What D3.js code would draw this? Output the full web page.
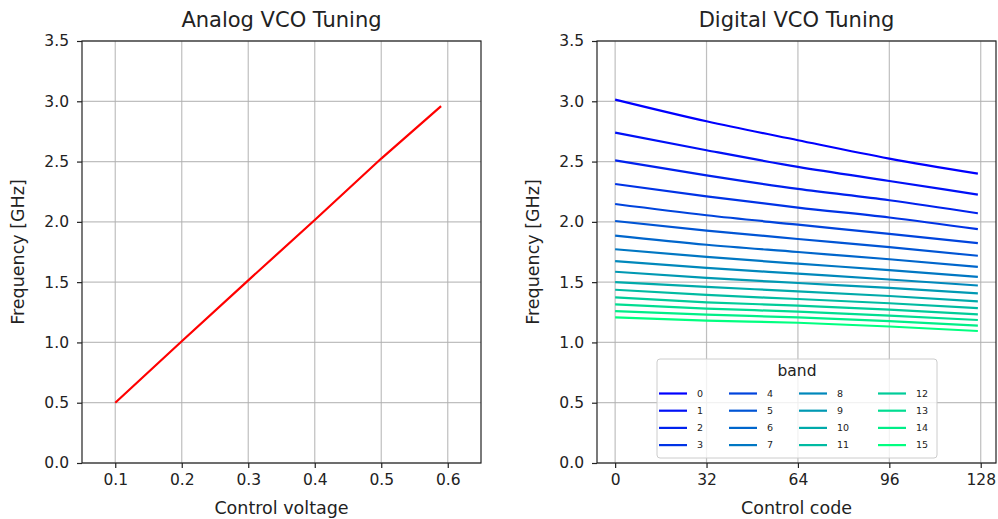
<!DOCTYPE html>
<html>
<head>
<meta charset="utf-8">
<script src="https://cdn.jsdelivr.net/npm/d3@7"></script>
<style>
  html, body { margin: 0; padding: 0; background: #fff; }
  svg { display: block; font-family: "DejaVu Sans", sans-serif; }
</style>
</head>
<body>
<svg id="chart" width="998" height="519"></svg>
<script>
// ---- Data ----
const voltage = [0.1, 0.2, 0.3, 0.4, 0.5, 0.59];
const analogFreq = [0.5, 1.01, 1.515, 2.015, 2.525, 2.96];

const bands = [0, 1, 2, 3, 4, 5, 6, 7, 8, 9, 10, 11, 12, 13, 14, 15];
const codes = [0, 32, 64, 96, 127];
// frequency [GHz] of each band at the control codes above
const digitalFreq = [
  [3.014, 2.834, 2.677, 2.525, 2.400],
  [2.740, 2.594, 2.456, 2.339, 2.226],
  [2.510, 2.386, 2.273, 2.179, 2.071],
  [2.314, 2.212, 2.118, 2.036, 1.939],
  [2.148, 2.055, 1.977, 1.900, 1.823],
  [2.007, 1.928, 1.858, 1.790, 1.719],
  [1.886, 1.810, 1.750, 1.690, 1.626],
  [1.773, 1.709, 1.653, 1.600, 1.543],
  [1.675, 1.618, 1.570, 1.522, 1.472],
  [1.586, 1.535, 1.493, 1.452, 1.407],
  [1.500, 1.460, 1.424, 1.385, 1.341],
  [1.437, 1.394, 1.360, 1.325, 1.285],
  [1.374, 1.333, 1.305, 1.272, 1.233],
  [1.316, 1.281, 1.255, 1.222, 1.186],
  [1.260, 1.231, 1.207, 1.176, 1.139],
  [1.208, 1.181, 1.163, 1.132, 1.095]
];

const yTicks = [0, 0.5, 1.0, 1.5, 2.0, 2.5, 3.0, 3.5];
const xTicksAnalog = [0.1, 0.2, 0.3, 0.4, 0.5, 0.6];
const xTicksDigital = [0, 32, 64, 96, 128];

// ---- Layout ----
const svg = d3.select("#chart");
const plotTop = 41, plotBottom = 463;
const panels = [
  { left: 82, right: 481 },
  { left: 597, right: 996 }
];
const winter = t => d3.rgb(0, Math.round(255 * t), Math.round(255 * (1 - 0.5 * t))).toString();

const y = d3.scaleLinear().domain([0, 3.5]).range([plotBottom, plotTop]);

function drawPanel(p, x, xTicks, xFmt, title, xlabel) {
  const g = svg.append("g");
  // grid
  g.append("g").selectAll("line").data(xTicks).join("line")
    .attr("x1", d => x(d)).attr("x2", d => x(d))
    .attr("y1", plotTop).attr("y2", plotBottom)
    .attr("stroke", "#b0b0b0").attr("stroke-width", 1.2).attr("opacity", 0.8);
  g.append("g").selectAll("line").data(yTicks).join("line")
    .attr("x1", p.left).attr("x2", p.right)
    .attr("y1", d => y(d)).attr("y2", d => y(d))
    .attr("stroke", "#b0b0b0").attr("stroke-width", 1.2).attr("opacity", 0.8);

  // axes
  const xa = g.append("g").attr("transform", `translate(0,${plotBottom})`)
    .call(d3.axisBottom(x).tickValues(xTicks).tickFormat(xFmt).tickSize(5).tickPadding(6).tickSizeOuter(0));
  const ya = g.append("g").attr("transform", `translate(${p.left},0)`)
    .call(d3.axisLeft(y).tickValues(yTicks).tickFormat(d3.format(".1f")).tickSize(5).tickPadding(8).tickSizeOuter(0));
  [xa, ya].forEach(a => {
    a.select(".domain").remove();
    a.selectAll(".tick line").attr("stroke", "#222").attr("stroke-width", 1.2);
    a.selectAll(".tick text").attr("fill", "#222").style("font-size", "15.5px").style("font-family", "DejaVu Sans");
  });

  // title & labels
  const cx = (p.left + p.right) / 2;
  svg.append("text").attr("x", cx).attr("y", 27).attr("text-anchor", "middle")
    .style("font-size", "21px").attr("fill", "#222").text(title);
  svg.append("text").attr("x", cx).attr("y", 514).attr("text-anchor", "middle")
    .style("font-size", "17.5px").attr("fill", "#222").text(xlabel);
  svg.append("text").attr("transform", `translate(${p.left - 58},${(plotTop + plotBottom) / 2}) rotate(-90)`)
    .attr("text-anchor", "middle")
    .style("font-size", "17.5px").attr("fill", "#222").text("Frequency [GHz]");
  return g;
}

// ---- Left: analog ----
const xA = d3.scaleLinear().domain([0.05, 0.65]).range([panels[0].left, panels[0].right]);
const gA = drawPanel(panels[0], xA, xTicksAnalog, d3.format(".1f"), "Analog VCO Tuning", "Control voltage");
const lineA = d3.line().x(d => xA(d[0])).y(d => y(d[1]));
gA.append("path").datum(voltage.map((v, i) => [v, analogFreq[i]]))
  .attr("d", lineA).attr("fill", "none").attr("stroke", "#ff0000").attr("stroke-width", 2.2);

// ---- Right: digital ----
const xD = d3.scaleLinear().domain([-6.35, 133.35]).range([panels[1].left, panels[1].right]);
const gD = drawPanel(panels[1], xD, xTicksDigital, d3.format("d"), "Digital VCO Tuning", "Control code");
const lineD = d3.line().x(d => xD(d[0])).y(d => y(d[1])).curve(d3.curveMonotoneX);
bands.forEach((b, i) => {
  gD.append("path").datum(codes.map((c, j) => [c, digitalFreq[i][j]]))
    .attr("d", lineD).attr("fill", "none")
    .attr("stroke", winter(b / 15)).attr("stroke-width", 2.2);
});

// frames
panels.forEach(p => {
  svg.append("rect").attr("x", p.left).attr("y", plotTop)
    .attr("width", p.right - p.left).attr("height", plotBottom - plotTop)
    .attr("fill", "none").attr("stroke", "#222").attr("stroke-width", 1.2);
});

// ---- Legend ----
const leg = svg.append("g");
leg.append("rect").attr("x", 657).attr("y", 359).attr("width", 280).attr("height", 99)
  .attr("rx", 3).attr("fill", "#fff").attr("fill-opacity", 0.8)
  .attr("stroke", "#cccccc").attr("stroke-width", 1);
leg.append("text").attr("x", 797).attr("y", 376).attr("text-anchor", "middle")
  .style("font-size", "15.5px").attr("fill", "#222").text("band");
const colX = [659, 729, 799, 878];
bands.forEach((b, i) => {
  const col = Math.floor(i / 4), row = i % 4;
  const yy = 393.5 + row * 17.2;
  leg.append("line").attr("x1", colX[col]).attr("x2", colX[col] + 28)
    .attr("y1", yy).attr("y2", yy)
    .attr("stroke", winter(b / 15)).attr("stroke-width", 2.2);
  leg.append("text").attr("x", colX[col] + 38).attr("y", yy).attr("dy", "0.35em")
    .style("font-size", "9.5px").attr("fill", "#222").text(b);
});
</script>
</body>
</html>
